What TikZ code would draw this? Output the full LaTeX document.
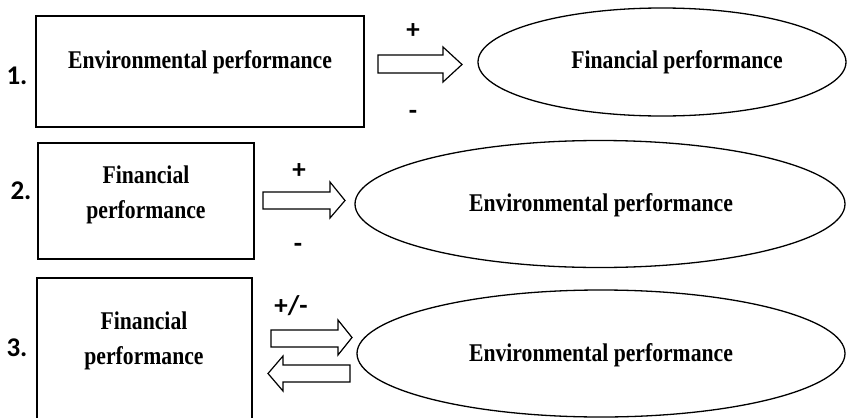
\documentclass[tikz,border=0pt]{standalone}
\usepackage{fontspec}
\usetikzlibrary{shapes.geometric}
\newfontfamily\boxfont[FakeStretch=0.85]{Liberation Serif Bold}
\newfontfamily\labfont{Carlito}[BoldFont=* Bold]
\begin{document}
\begin{tikzpicture}[x=1pt,y=-1pt,
  frame/.style={draw=black,line width=1.3pt,fill=white,inner sep=0pt},
  oval/.style={draw=black,line width=1.3pt,ellipse,inner sep=0pt},
  txt/.style={font=\boxfont\fontsize{25.5}{35}\selectfont,align=center,inner sep=0pt},
  lab/.style={font=\labfont\bfseries\fontsize{27}{30}\selectfont,inner sep=0pt},
  barrow/.style={draw=black,line width=1.2pt,fill=white,line join=miter}]
\useasboundingbox (0,0) rectangle (847,418);
\begin{scope}
\clip (0,0) rectangle (847,418);
% row 1
\node[frame,minimum width=328pt,minimum height=111pt] (b1) at (200,71.5) {};
\node[txt] (t1) at (200,62) {Environmental performance};
\node[lab] (n1) at (17,76) {1.};
\node[oval,minimum width=368pt,minimum height=108pt] (e1) at (662,62) {};
\node[txt] (t2) at (677,62) {Financial performance};
\node[lab] (p1) at (413,31) {+};
\node[lab] (m1) at (413,115) {-};
\draw[barrow] (378,55) -- (443,55) -- (443,47) -- (462,64.5) -- (443,82) -- (443,73) -- (378,73) -- cycle;
% row 2
\node[frame,minimum width=216pt,minimum height=116pt] (b2) at (146,201) {};
\node[txt] (t3) at (146,195) {Financial\\performance};
\node[lab] (n2) at (21,191) {2.};
\node[oval,minimum width=490pt,minimum height=127pt] (e2) at (600,204) {};
\node[txt] (t4) at (601,205) {Environmental performance};
\node[lab] (p2) at (299,171) {+};
\node[lab] (m2) at (298,248) {-};
\draw[barrow] (263,192) -- (330,192) -- (330,182) -- (345,200.5) -- (330,218) -- (330,209) -- (263,209) -- cycle;
% row 3
\node[frame,minimum width=215pt,minimum height=152pt] (b3) at (144.5,354) {};
\node[txt] (t5) at (144,341) {Financial\\performance};
\node[lab] (n3) at (17,348) {3.};
\node[oval,minimum width=488pt,minimum height=127pt] (e3) at (601,353.5) {};
\node[txt] (t6) at (601,355) {Environmental performance};
\node[lab] (pm) at (291,306) {+/-};
\draw[barrow] (271,330) -- (338,330) -- (338,320) -- (352,337.5) -- (338,355) -- (338,347) -- (271,347) -- cycle;
\draw[barrow] (350,365) -- (283,365) -- (283,356) -- (268,373.5) -- (283,391) -- (283,382) -- (350,382) -- cycle;
\end{scope}
\end{tikzpicture}
\end{document}
